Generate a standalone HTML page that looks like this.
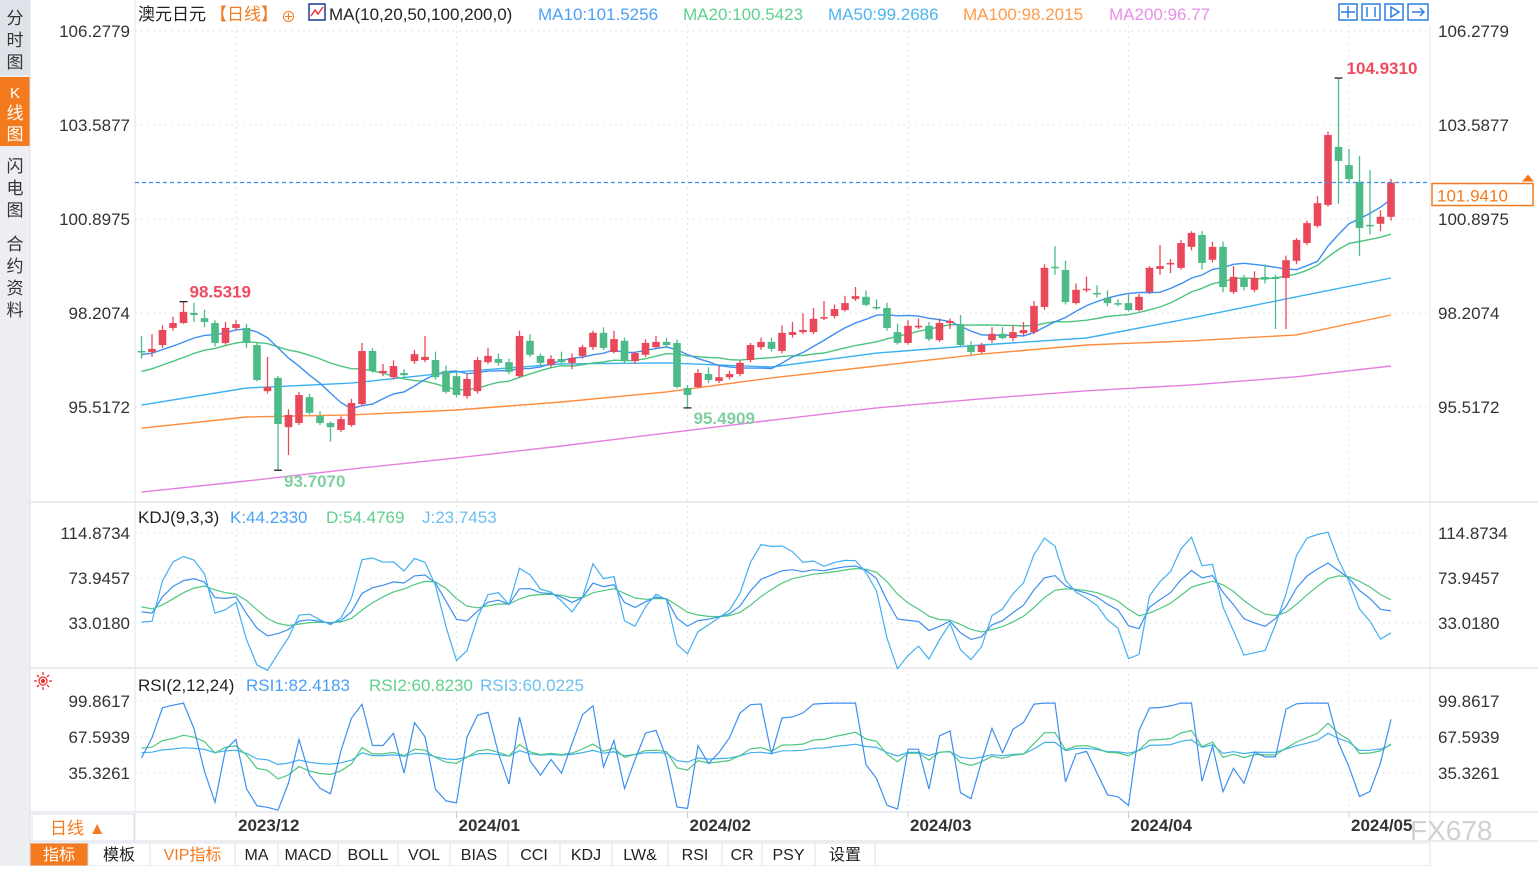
<!DOCTYPE html>
<html><head><meta charset="utf-8"><style>
html,body{margin:0;padding:0;background:#fff;}
body{width:1538px;height:866px;overflow:hidden;font-family:"Liberation Sans","Noto Sans CJK SC",sans-serif;}
svg text{font-family:"Liberation Sans","Noto Sans CJK SC",sans-serif;}
</style></head><body>
<svg id="c" width="1538" height="866" viewBox="0 0 1538 866" xmlns="http://www.w3.org/2000/svg">
<rect x="0" y="0" width="1538" height="866" fill="#fff"/>
<!-- left tabs -->
<g>
<rect x="0" y="0" width="30" height="866" fill="#eceef2"/>
<rect x="0" y="0" width="30" height="75" fill="#dfe2e8"/>
<text x="15" y="24" font-size="17" fill="#333" text-anchor="middle">分</text>
<text x="15" y="46" font-size="17" fill="#333" text-anchor="middle">时</text>
<text x="15" y="68" font-size="17" fill="#333" text-anchor="middle">图</text>
<rect x="0" y="77" width="30" height="69" fill="#f47a1f"/>
<text x="15" y="98" font-size="15" fill="#fff" text-anchor="middle" font-family="Liberation Mono">K</text>
<text x="15" y="119" font-size="17" fill="#fff" text-anchor="middle">线</text>
<text x="15" y="140" font-size="17" fill="#fff" text-anchor="middle">图</text>
<g>
<text x="15" y="172" font-size="17" fill="#333" text-anchor="middle">闪</text>
<text x="15" y="194" font-size="17" fill="#333" text-anchor="middle">电</text>
<text x="15" y="216" font-size="17" fill="#333" text-anchor="middle">图</text></g>
<g>
<text x="15" y="250" font-size="17" fill="#333" text-anchor="middle">合</text>
<text x="15" y="272" font-size="17" fill="#333" text-anchor="middle">约</text>
<text x="15" y="294" font-size="17" fill="#333" text-anchor="middle">资</text>
<text x="15" y="316" font-size="17" fill="#333" text-anchor="middle">料</text></g>
</g>
<g id="grid"></g>
<g id="marks"></g>
<g id="labels"></g>
<!-- header -->
<g font-size="17">
<text x="138" y="20" fill="#222">澳元日元</text>
<text x="210" y="20" fill="#f47a1f">【日线】</text>
<text x="281" y="22" fill="#f47a1f" font-size="15">⊕</text>
<g><rect x="309" y="4" width="16" height="16" fill="#fff" stroke="#1a3a9a" stroke-width="1.5"/><polyline points="311,16 315,10 318,14 323,7" fill="none" stroke="#e33" stroke-width="1.5"/></g>
<text x="329" y="20" fill="#222">MA(10,20,50,100,200,0)</text>
<text x="538" y="20" fill="#4a9ff5">MA10:101.5256</text>
<text x="683" y="20" fill="#5fcf8f">MA20:100.5423</text>
<text x="828" y="20" fill="#4cb4f0">MA50:99.2686</text>
<text x="963" y="20" fill="#ff9a4a">MA100:98.2015</text>
<text x="1109" y="20" fill="#e88ee8">MA200:96.77</text>
</g>
<g fill="none" stroke="#2a7fe0" stroke-width="1.5">
<rect x="1339" y="4" width="18" height="16"/><line x1="1348" y1="6" x2="1348" y2="18"/><line x1="1341" y1="12" x2="1355" y2="12"/>
<rect x="1362" y="4" width="18" height="16"/><line x1="1367" y1="7" x2="1367" y2="17"/><line x1="1375" y1="7" x2="1375" y2="17"/>
<rect x="1385" y="4" width="18" height="16"/><polygon points="1391,7 1399,12 1391,17"/>
<rect x="1408" y="4" width="20" height="16"/><line x1="1412" y1="12" x2="1424" y2="12"/><polyline points="1420,8 1424,12 1420,16"/>
</g>
<!-- KDJ / RSI legends -->
<g font-size="17">
<text x="138" y="523" fill="#222">KDJ(9,3,3)</text>
<text x="230" y="523" fill="#4a9ff5">K:44.2330</text>
<text x="326" y="523" fill="#5fcf8f">D:54.4769</text>
<text x="422" y="523" fill="#6bbff0">J:23.7453</text>
</g>
<g font-size="17">
<text x="138" y="691" fill="#222">RSI(2,12,24)</text>
<text x="246" y="691" fill="#4a9ff5">RSI1:82.4183</text>
<text x="369" y="691" fill="#5fcf8f">RSI2:60.8230</text>
<text x="480" y="691" fill="#6bbff0">RSI3:60.0225</text>
</g>
<g stroke="#e33" fill="none" stroke-width="1.3">
<circle cx="43" cy="681" r="4"/><circle cx="43" cy="681" r="1.5" fill="#e33"/>
<line x1="43" y1="672" x2="43" y2="675"/><line x1="43" y1="687" x2="43" y2="690"/><line x1="34" y1="681" x2="37" y2="681"/><line x1="49" y1="681" x2="52" y2="681"/>
<line x1="37" y1="675" x2="39" y2="677"/><line x1="47" y1="685" x2="49" y2="687"/><line x1="49" y1="675" x2="47" y2="677"/><line x1="37" y1="687" x2="39" y2="685"/>
</g>
<!-- bottom -->
<g>
<rect x="32" y="814" width="102" height="27" fill="#fff" stroke="#dde" />
<text x="50" y="834" font-size="17" fill="#f47a1f">日线 ▲</text>
</g>
<g id="toolbar"></g>
<text x="1410" y="840" font-size="28" fill="#d0d0d0">FX678</text>
</svg>
<script>
// ===== data =====
const months = ["2023/12","2024/01","2024/02","2024/03","2024/04","2024/05"];
const monthIdx = [9,30,52,73,94,115];
const priceTicks = [106.2779,103.5877,100.8975,98.2074,95.5172];
const kdjTicks = [114.8734,73.9457,33.0180];
const rsiTicks = [99.8617,67.5939,35.3261];
const histClose = [95.6,95.7,95.5,95.8,96.0,95.9,96.1,96.3,96.2,96.4,96.6,96.8,96.7,96.9,97.1,97.0,97.2,97.1,97.3,97.0];
const open = [97.12,97.09,97.29,97.78,97.92,98.21,98.06,97.92,97.35,97.78,97.78,97.29,95.97,96.35,94.94,95.06,95.80,95.26,95.06,94.86,
95.00,95.60,97.12,96.49,96.37,96.49,96.83,96.86,96.86,96.55,96.40,95.83,95.97,96.80,96.89,96.80,96.40,97.41,96.98,96.72,
96.89,96.78,96.98,97.23,97.64,97.09,97.41,96.83,97.01,97.23,97.38,97.35,96.06,96.09,96.46,96.26,96.37,96.46,96.86,97.23,
97.38,97.12,97.58,97.66,97.66,98.06,98.12,98.29,98.61,98.67,98.38,98.35,97.66,97.35,97.81,97.84,97.43,97.92,97.86,97.29,
97.09,97.43,97.61,97.49,97.63,97.66,98.38,99.53,99.44,98.49,98.87,98.78,98.64,98.49,98.49,98.29,98.81,99.47,99.61,99.50,
100.10,100.44,99.73,100.10,98.81,99.21,98.87,99.24,99.24,99.21,99.70,100.21,100.70,101.30,102.96,102.44,101.96,100.73,100.76,100.96];
const close = [97.09,97.18,97.72,97.92,98.24,98.15,97.95,97.35,97.78,97.89,97.35,96.29,96.09,95.03,95.29,95.86,95.35,95.06,94.94,95.17,
95.63,97.12,96.55,96.55,96.69,96.43,97.03,96.95,96.37,95.95,95.86,96.32,96.86,96.98,96.78,96.52,97.55,97.01,96.78,96.89,
96.80,96.92,97.23,97.64,97.21,97.46,96.83,97.06,97.35,97.38,97.29,96.09,95.86,96.49,96.29,96.37,96.46,96.78,97.29,97.38,
97.18,97.64,97.66,97.72,98.04,98.09,98.32,98.49,98.69,98.44,98.35,97.78,97.35,97.84,97.84,97.46,97.92,97.98,97.29,97.09,
97.29,97.61,97.49,97.66,97.72,98.41,99.50,99.50,98.52,98.87,98.90,98.75,98.49,98.46,98.29,98.67,99.50,99.55,99.64,100.21,
100.50,99.64,100.10,98.95,99.24,98.95,99.21,99.18,99.18,99.72,100.30,100.78,101.35,103.30,102.56,102.04,100.64,100.70,100.96,101.94];
const high = [97.55,97.60,97.85,98.10,98.53,98.50,98.30,98.00,97.95,98.00,97.90,97.35,96.95,96.40,95.45,95.95,95.90,95.40,95.10,95.25,
95.75,97.35,97.20,96.75,96.85,96.60,97.15,97.55,97.10,96.70,96.55,96.45,96.95,97.20,97.05,96.90,97.70,97.60,97.05,97.00,
97.10,97.05,97.30,97.70,97.80,97.70,97.50,97.10,97.45,97.55,97.50,97.45,96.15,96.60,96.65,96.70,96.55,96.85,97.35,97.50,
97.50,97.85,97.95,98.20,98.35,98.55,98.45,98.70,98.95,98.85,98.60,98.50,97.90,98.00,98.05,97.95,98.05,98.05,98.15,97.40,
97.35,97.80,97.80,97.85,97.95,98.55,99.60,100.12,99.70,99.05,99.25,99.00,98.85,98.60,98.75,98.75,99.55,100.15,99.75,100.30,
100.55,100.55,100.25,100.25,99.55,99.30,99.40,99.60,99.30,99.85,100.35,100.85,101.55,103.40,104.93,102.90,102.70,102.30,101.15,102.05];
const low = [96.90,96.95,97.20,97.70,97.90,97.95,97.80,97.25,97.30,97.70,97.20,96.25,95.90,93.71,94.14,95.00,95.30,95.00,94.52,94.80,
94.95,95.55,96.50,96.40,96.30,96.35,96.75,96.80,96.30,95.90,95.80,95.75,95.90,96.75,96.70,96.45,96.35,96.95,96.70,96.65,
96.75,96.60,96.90,97.15,97.15,97.05,96.75,96.75,96.95,97.20,97.20,96.05,95.49,96.05,96.20,96.20,96.30,96.40,96.80,97.15,
97.10,97.05,97.50,97.60,97.60,98.00,98.05,98.25,98.55,98.40,98.30,97.70,97.30,97.30,97.75,97.40,97.38,97.75,97.25,97.00,
97.05,97.35,97.45,97.40,97.55,97.60,98.30,99.30,98.45,98.45,98.80,98.65,98.40,98.40,98.25,98.25,98.75,99.30,99.35,99.45,
100.00,99.45,99.65,98.80,98.75,98.85,98.80,99.05,97.75,97.75,99.60,100.15,100.65,101.25,101.33,101.95,99.84,100.45,100.55,100.85];
const ma50 = [95.57,96.06,96.20,96.52,96.75,96.78,96.66,97.06,97.29,97.49,98.06,98.67,99.21];
const ma100 = [94.91,95.23,95.29,95.43,95.66,95.95,96.35,96.69,97.03,97.29,97.41,97.58,98.15];
const ma200 = [93.08,93.40,93.74,94.06,94.40,94.77,95.14,95.49,95.75,95.98,96.15,96.38,96.69];
const maSampleIdx = [0,10,20,30,40,50,60,70,80,90,100,110,119];
const lastPrice = 101.9410, hiMark = 104.9310, loMark = 93.7070, midLo = 95.4909, leftHi = 98.5319;

// ===== scales =====
const N = close.length;
const X0 = 141.5, X1 = 1391;
const xs = i => X0 + i*(X1-X0)/(N-1);
const yP = p => 31 + (106.2779 - p)*34.94;
const yK = v => 578 - (v-73.9457)*1.0993;
const yR = v => 737 - (v-67.5939)*1.1156;
const NS = "http://www.w3.org/2000/svg";
function mk(tag, attrs, parent){const e=document.createElementNS(NS,tag);for(const k in attrs)e.setAttribute(k,attrs[k]);parent.appendChild(e);return e;}
const grid = document.getElementById('grid'), marks = document.getElementById('marks'), labels = document.getElementById('labels');

// frame
mk('line',{x1:135,y1:0,x2:135,y2:842,stroke:'#e3e6ec'},grid);
mk('line',{x1:1430,y1:25,x2:1430,y2:842,stroke:'#e3e6ec'},grid);
[502,668,812,841].forEach(y=>{const l=mk('line',{x1:30,y1:y,x2:1538,y2:y,stroke:'#e3e6ec','stroke-width':1.5},grid);});
mk('line',{x1:30,y1:0,x2:30,y2:866,stroke:'#dde0e6'},grid);

function tickRow(vals, yf, name){
  vals.forEach(v=>{
    const y=yf(v);
    const gl=mk('line',{x1:135,y1:y,x2:1430,y2:y,stroke:'#e2e5ea','stroke-dasharray':'2,4'},grid);
    
    
    const t1=mk('text',{x:130,y:y+6,'font-size':17,fill:'#333','text-anchor':'end'},labels);
    t1.textContent=v.toFixed(4);
    
    
    const t2=mk('text',{x:1438,y:y+6,'font-size':17,fill:'#333'},labels);
    t2.textContent=v.toFixed(4);
    
    
  });
}
tickRow(priceTicks,yP,'price');
tickRow(kdjTicks,yK,'kdj');
tickRow(rsiTicks,yR,'rsi');

months.forEach((m,k)=>{
  const x=xs(monthIdx[k]);
  const vl=mk('line',{x1:x,y1:25,x2:x,y2:812,stroke:'#e2e5ea','stroke-dasharray':'2,4'},grid);
  
  
  mk('line',{x1:x,y1:812,x2:x,y2:818,stroke:'#ccc'},grid);
  const t=mk('text',{x:x+2,y:831,'font-size':17,fill:'#333','font-weight':'bold'},labels);
  t.textContent=m;
  
  
});

// MAs
function allCloses(){return histClose.concat(close);}
function maSeries(n){const a=allCloses(),H=histClose.length,out=[];for(let i=0;i<N;i++){let s=0,c=0;for(let j=H+i;j>H+i-n&&j>=0;j--){s+=a[j];c++;}out.push(s/c);}return out;}
function poly(pts,color,name,w){const p=mk('polyline',{points:pts.map(q=>q[0].toFixed(1)+','+q[1].toFixed(1)).join(' '),fill:'none',stroke:color,'stroke-width':w||1.4},marks);return p;}
poly(ma200.map((v,k)=>[xs(maSampleIdx[k]),yP(v)]),'#e57ee0','ma200-line');
poly(ma100.map((v,k)=>[xs(maSampleIdx[k]),yP(v)]),'#ff8c3a','ma100-line');
poly(ma50.map((v,k)=>[xs(maSampleIdx[k]),yP(v)]),'#3bb1f0','ma50-line');
poly(maSeries(20).map((v,i)=>[xs(i),yP(v)]),'#4cc47e','ma20-line');
poly(maSeries(10).map((v,i)=>[xs(i),yP(v)]),'#3d8ff0','ma10-line');

// candles
for(let i=0;i<N;i++){
  const up=close[i]>=open[i], col=up?'#e9485b':'#4dbb87', x=xs(i);
  const g=mk('g',{},marks);
  
  
  mk('line',{x1:x,y1:yP(high[i]),x2:x,y2:yP(low[i]),stroke:col,'stroke-width':1.3},g);
  const t=yP(Math.max(open[i],close[i])),b=yP(Math.min(open[i],close[i]));
  mk('rect',{x:x-3.8,y:t,width:7.6,height:Math.max(1.5,b-t),fill:col},g);
}

// last price line
const yl=yP(lastPrice);
const dl=mk('line',{x1:135,y1:yl,x2:1430,y2:yl,stroke:'#3d8ff0','stroke-dasharray':'4,3','stroke-width':1.2},marks);


const lb=mk('rect',{x:1432,y:yl+1,width:101,height:22,fill:'#fff',stroke:'#f47a1f','stroke-width':1.5},labels);


const lt=mk('text',{x:1437,y:yl+19,'font-size':17,fill:'#f47a1f'},labels);
lt.textContent=lastPrice.toFixed(4);


const ar=mk('polygon',{points:`1522,${yl-1} 1528,${yl-8} 1534,${yl-1}`,fill:'#f47a1f'},labels);



// extreme markers
function marker(i,p,txt,col,dx,dy){
  const x=xs(i),y=yP(p);
  mk('line',{x1:x-4,y1:y,x2:x+4,y2:y,stroke:'#222','stroke-width':1.3},marks);
  const t=mk('text',{x:x+dx,y:y+dy,'font-size':17,fill:col,'font-weight':'bold'},labels);
  t.textContent=txt;
  
  
}
marker(114,hiMark,hiMark.toFixed(4),'#ef4b5f',8,-4);
marker(13,loMark,loMark.toFixed(4),'#7fcf9f',6,17);
marker(52,midLo,midLo.toFixed(4),'#7fcf9f',6,16);
marker(4,leftHi,leftHi.toFixed(4),'#ef4b5f',6,-4);

// KDJ
const Kv=[],Dv=[],Jv=[];let kp=50,dp=50;
for(let i=0;i<N;i++){let hh=-1e9,ll=1e9;for(let j=Math.max(0,i-8);j<=i;j++){hh=Math.max(hh,high[j]);ll=Math.min(ll,low[j]);}
 const rsv=hh>ll?(close[i]-ll)/(hh-ll)*100:50;kp=2/3*kp+rsv/3;dp=2/3*dp+kp/3;Kv.push(kp);Dv.push(dp);Jv.push(3*kp-2*dp);}
poly(Dv.map((v,i)=>[xs(i),yK(v)]),'#4fc77f','kdj-d-line',1.2);
poly(Kv.map((v,i)=>[xs(i),yK(v)]),'#3d8ff0','kdj-k-line',1.2);
poly(Jv.map((v,i)=>[xs(i),yK(Math.max(-10,Math.min(118,v)))]),'#42b0f0','kdj-j-line',1.2);

// RSI
function rsi(n){const a=allCloses(),H=histClose.length;let up=0.5,ab=1,out=[];for(let j=1;j<a.length;j++){const d=a[j]-a[j-1];up=(Math.max(d,0)+(n-1)*up)/n;ab=(Math.abs(d)+(n-1)*ab)/n;if(j>=H)out.push(ab>0?up/ab*100:50);}return out;}
poly(rsi(24).map((v,i)=>[xs(i),yR(v)]),'#42b0f0','rsi3-line',1.2);
poly(rsi(12).map((v,i)=>[xs(i),yR(v)]),'#4fc77f','rsi2-line',1.2);
poly(rsi(2).map((v,i)=>[xs(i),yR(Math.max(2,Math.min(98,v)))]),'#3d8ff0','rsi1-line',1.2);

// toolbar
const tb=document.getElementById('toolbar');
const btnNames=["指标","模板","VIP指标","MA","MACD","BOLL","VOL","BIAS","CCI","KDJ","LW&","RSI","CR","PSY","设置"];
const btnEdges=[30,88,150,235,278,338,398,450,508,560,612,668,722,762,815,875];
btnNames.forEach((n,k)=>{
  const x0=btnEdges[k],w=btnEdges[k+1]-x0;
  const r=mk('rect',{x:x0,y:843,width:w,height:23,fill:k===0?'#f47a1f':'#fff',stroke:'#dcdfe5'},tb);
  
  
  const t=mk('text',{x:x0+w/2,y:860,'font-size':16,'text-anchor':'middle',fill:k===0?'#fff':(k===2?'#f47a1f':'#222'),'font-family':/^[A-Z&]+$/.test(n)?'Liberation Mono':'Liberation Sans, Noto Sans CJK SC, sans-serif'},tb);
  t.textContent=n;
});
const rest=mk('rect',{x:875,y:843,width:555,height:23,fill:'#fff',stroke:'#dcdfe5'},tb);


</script>
</body></html>
